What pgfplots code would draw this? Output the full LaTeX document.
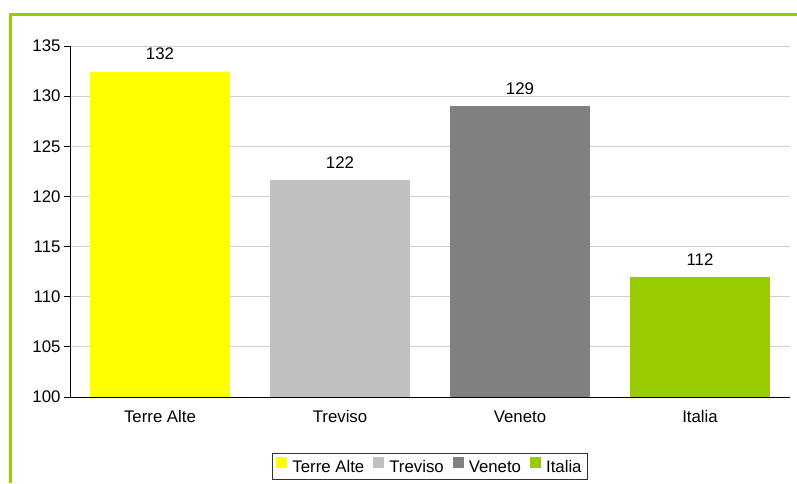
\documentclass[border=0pt]{standalone}
\usepackage{pgfplots}
\pgfplotsset{compat=1.18}
\usepackage{fontspec}
\setmainfont{Liberation Sans}
\definecolor{cTA}{HTML}{FFFF00}
\definecolor{cTV}{HTML}{C0C0C0}
\definecolor{cVE}{HTML}{808080}
\definecolor{cIT}{HTML}{99CC00}
\definecolor{gridc}{HTML}{D0D0D0}
\newcommand{\fs}{\fontsize{16.8}{20}\selectfont}
\begin{document}
\begin{tikzpicture}
\path[use as bounding box] (0,0) rectangle (797pt,483pt);
\draw[cIT, line width=3pt] (10pt,0pt) -- (10pt,468pt) -- (797pt,468pt);
\begin{axis}[
  at={(70pt,86pt)}, anchor=south west,
  scale only axis, width=720pt, height=351pt,
  xmin=-0.5, xmax=3.5, ymin=100, ymax=135,
  ytick={100,105,...,135},
  xtick={0,1,2,3},
  xticklabels={Terre Alte,Treviso,Veneto,Italia},
  axis x line*=bottom, axis y line*=left,
  axis line style={black, line width=1pt, -},
  tick align=outside, major tick length=6pt,
  ytick style={black, line width=1pt},
  xtick style={draw=none},
  ymajorgrids, grid style={gridc, line width=1pt},
  /pgf/number format/assume math mode=true,
  tick label style={font=\fs},
  xticklabel style={yshift=-4pt},
  ybar, bar shift=0pt, bar width=140pt,
  nodes near coords,
  nodes near coords style={font=\fs, black, /pgf/number format/fixed, /pgf/number format/precision=0, yshift=8pt},
  legend columns=4,
  legend style={at={(0.5,-0.198)}, anchor=center, draw=black!80, line width=1pt, font=\fs,
    inner xsep=4pt, inner ysep=4pt,
    /tikz/every odd column/.append style={column sep=3pt},
    /tikz/every even column/.append style={column sep=7pt}},
  legend image code/.code={\fill[#1] (0pt,-1pt) rectangle (11pt,10pt);},
]
\addplot[fill=cTA, draw=none] coordinates {(0,132.45)};
\addplot[fill=cTV, draw=none] coordinates {(1,121.6)};
\addplot[fill=cVE, draw=none] coordinates {(2,129.0)};
\addplot[fill=cIT, draw=none] coordinates {(3,112.0)};
\legend{Terre Alte,Treviso,Veneto,Italia}
\end{axis}
\end{tikzpicture}
\end{document}
